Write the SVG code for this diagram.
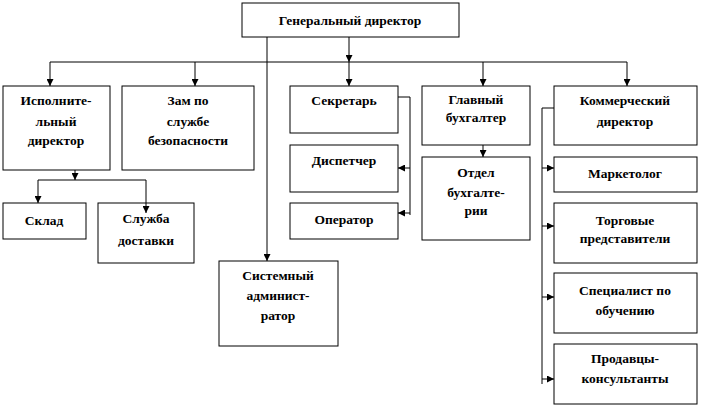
<svg xmlns="http://www.w3.org/2000/svg" width="702" height="407" viewBox="0 0 702 407">
<style>
.b{fill:#fff;stroke:#000;stroke-width:1}
.t{font-family:'Liberation Serif','Times New Roman',Tinos,'DejaVu Serif','Noto Serif',serif;font-weight:700;font-size:13.5px;fill:#000;text-anchor:middle}
.c{fill:none;stroke:#000;stroke-width:1}
</style>
<defs>
<marker id="a" viewBox="0 0 8 8" refX="8" refY="4" markerWidth="7" markerHeight="7" orient="auto" markerUnits="userSpaceOnUse"><path d="M0,0 L8,4 L0,8 z" fill="#000"/></marker>
</defs>
<rect width="702" height="407" fill="#fff"/>
<g id="gen"><rect class="b" x="242" y="3" width="217" height="34"/><text class="t" x="350" y="25">Генеральный директор</text></g>
<g id="isp"><rect class="b" x="3" y="86" width="107" height="84"/><text class="t" x="56" y="105">Исполните-</text><text class="t" x="56" y="126">льный</text><text class="t" x="56" y="145">директор</text></g>
<g id="zam"><rect class="b" x="122" y="86" width="132" height="84"/><text class="t" x="188" y="105">Зам по</text><text class="t" x="188" y="126">службе</text><text class="t" x="188" y="145">безопасности</text></g>
<g id="sekr"><rect class="b" x="290" y="86" width="108" height="47"/><text class="t" x="344" y="105">Секретарь</text></g>
<g id="glbuh"><rect class="b" x="422" y="86" width="108" height="59"/><text class="t" x="476" y="104">Главный</text><text class="t" x="476" y="122">бухгалтер</text></g>
<g id="komm"><rect class="b" x="554" y="86" width="143" height="59"/><text class="t" x="625" y="105">Коммерческий</text><text class="t" x="625" y="126">директор</text></g>
<g id="disp"><rect class="b" x="290" y="145" width="108" height="47"/><text class="t" x="344" y="165">Диспетчер</text></g>
<g id="oper"><rect class="b" x="290" y="203" width="108" height="36"/><text class="t" x="344" y="224">Оператор</text></g>
<g id="otdel"><rect class="b" x="422" y="157" width="108" height="83"/><text class="t" x="476" y="177">Отдел</text><text class="t" x="476" y="197">бухгалте-</text><text class="t" x="476" y="215">рии</text></g>
<g id="mark"><rect class="b" x="554" y="157" width="143" height="35"/><text class="t" x="625" y="178">Маркетолог</text></g>
<g id="torg"><rect class="b" x="554" y="203" width="143" height="60"/><text class="t" x="625" y="225">Торговые</text><text class="t" x="625" y="243">представители</text></g>
<g id="spec"><rect class="b" x="554" y="273" width="143" height="60"/><text class="t" x="625" y="295">Специалист по</text><text class="t" x="625" y="315">обучению</text></g>
<g id="prod"><rect class="b" x="554" y="344" width="143" height="60"/><text class="t" x="625" y="363">Продавцы-</text><text class="t" x="625" y="383">консультанты</text></g>
<g id="sklad"><rect class="b" x="3" y="203" width="83" height="36"/><text class="t" x="44" y="225">Склад</text></g>
<g id="sluzh"><rect class="b" x="98" y="203" width="96" height="60"/><text class="t" x="146" y="223">Служба</text><text class="t" x="146" y="245">доставки</text></g>
<g id="sysadm"><rect class="b" x="219" y="261" width="119" height="85"/><text class="t" x="278" y="280">Системный</text><text class="t" x="278" y="300">админист-</text><text class="t" x="278" y="320">ратор</text></g>
<g id="connectors">
<path class="c" d="M349,37 V62" marker-end="url(#a)"/>
<path class="c" d="M50,62 H627"/>
<path class="c" d="M50,62 V86" marker-end="url(#a)"/>
<path class="c" d="M195,62 V86" marker-end="url(#a)"/>
<path class="c" d="M349,62 V86" marker-end="url(#a)"/>
<path class="c" d="M483,62 V86" marker-end="url(#a)"/>
<path class="c" d="M627,62 V86" marker-end="url(#a)"/>
<path class="c" d="M267,37 V261" marker-end="url(#a)"/>
<path class="c" d="M75,170 V180" marker-end="url(#a)"/>
<path class="c" d="M38,180 H146"/>
<path class="c" d="M38,180 V203" marker-end="url(#a)"/>
<path class="c" d="M146,180 V213" marker-end="url(#a)"/>
<path class="c" d="M398,97 H410 V215"/>
<path class="c" d="M410,168 H398" marker-end="url(#a)"/>
<path class="c" d="M410,213 H398" marker-end="url(#a)"/>
<path class="c" d="M483,145 V157" marker-end="url(#a)"/>
<path class="c" d="M554,108 H542 V384"/>
<path class="c" d="M542,168 H554" marker-end="url(#a)"/>
<path class="c" d="M542,226 H554" marker-end="url(#a)"/>
<path class="c" d="M542,297 H554" marker-end="url(#a)"/>
<path class="c" d="M542,379 H554" marker-end="url(#a)"/>
</g>
</svg>
